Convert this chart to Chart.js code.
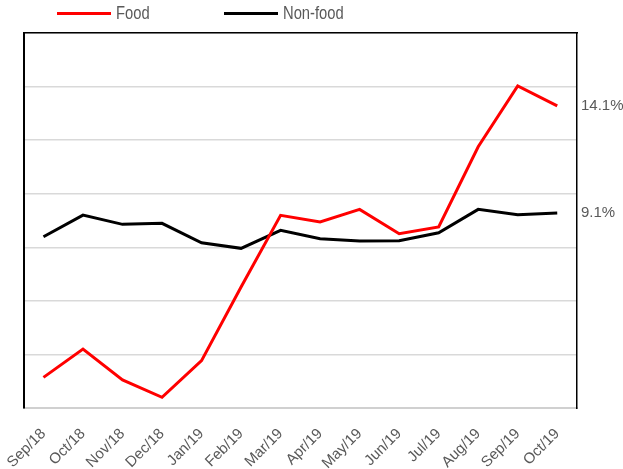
<!DOCTYPE html>
<html>
<head>
<meta charset="utf-8">
<script src="https://cdn.jsdelivr.net/npm/chart.js@4/dist/chart.umd.min.js"></script>
<style>
  body { margin: 0; background: #fff; }
  #wrap { position: relative; width: 623px; height: 469px; }
  .legend { position: absolute; top: 2px; font-family: "Liberation Sans", Arial, sans-serif; font-size: 18px; color: #595959; line-height: 22px; white-space: nowrap; }
  .legend i { display: inline-block; width: 54px; height: 3px; vertical-align: middle; margin-right: 5px; position: relative; top: -1px; }
  .legend span { display: inline-block; transform: scaleX(0.82); transform-origin: left center; }
</style>
</head>
<body>
<div id="wrap">
  <canvas id="chart"></canvas>
  <div class="legend" style="left:57px"><i style="background:#ff0000"></i><span>Food</span></div>
  <div class="legend" style="left:224px"><i style="background:#000"></i><span>Non-food</span></div>
</div>
<script>
const months = ['Sep/18', 'Oct/18', 'Nov/18', 'Dec/18', 'Jan/19', 'Feb/19', 'Mar/19',
  'Apr/19', 'May/19', 'Jun/19', 'Jul/19', 'Aug/19', 'Sep/19', 'Oct/19'];
const food = [1.43, 2.75, 1.31, 0.5, 2.21, 5.65, 8.99, 8.68, 9.27, 8.13, 8.45, 12.19, 15.03, 14.1];
const nonFood = [7.99, 9.0, 8.57, 8.62, 7.71, 7.45, 8.29, 7.9, 7.79, 7.81, 8.18, 9.27, 9.02, 9.1];
// labels on the right side = last value of each series
const endLabels = [food[food.length - 1], nonFood[nonFood.length - 1]];

new Chart(document.getElementById('chart'), {
  type: 'line',
  data: {
    labels: months,
    datasets: [
      { label: 'Food', data: food, borderColor: '#ff0000', backgroundColor: '#ff0000', borderWidth: 3 },
      { label: 'Non-food', data: nonFood, borderColor: '#000000', backgroundColor: '#000000', borderWidth: 3 }
    ]
  },
  options: {
    responsive: true,
    maintainAspectRatio: false,
    animation: false,
    layout: { padding: { left: 22, top: 33, right: 0, bottom: 0 } },
    elements: {
      point: { radius: 0 },
      line: { tension: 0, borderCapStyle: 'butt' }
    },
    plugins: {
      legend: { display: false },
      tooltip: { enabled: false }
    },
    scales: {
      x: {
        offset: true,
        grid: { display: false },
        border: { color: '#d0d0d0', width: 2 },
        ticks: {
          autoSkip: false,
          maxRotation: 45,
          minRotation: 45,
          padding: 9,
          color: '#595959',
          font: { family: '"Liberation Sans", Arial, sans-serif', size: 15 }
        },
        afterFit: function (scale) { scale.height = 61; }
      },
      x2: {
        type: 'category',
        labels: months,
        position: 'top',
        offset: true,
        grid: { display: false },
        ticks: { display: false },
        border: { color: '#000000', width: 1.5 },
        afterFit: function (scale) { scale.height = 0; }
      },
      y: {
        min: 0,
        max: 17.5,
        ticks: { display: false, stepSize: 2.5 },
        grid: { color: '#d9d9d9', lineWidth: 1.5, drawTicks: false },
        border: { color: '#000000', width: 2 },
        afterFit: function (scale) { scale.width = 0; }
      },
      y2: {
        position: 'right',
        min: 0,
        max: 17.5,
        grid: { display: false, drawTicks: false },
        border: { color: '#000000', width: 1.5 },
        afterBuildTicks: function (scale) {
          scale.ticks = endLabels.map(v => ({ value: v }));
        },
        ticks: {
          padding: 4,
          color: '#595959',
          font: { family: '"Liberation Sans", Arial, sans-serif', size: 15 },
          callback: function (value) { return value.toFixed(1) + '%'; }
        },
        afterFit: function (scale) { scale.width = 46; }
      }
    }
  }
});
</script>
</body>
</html>
